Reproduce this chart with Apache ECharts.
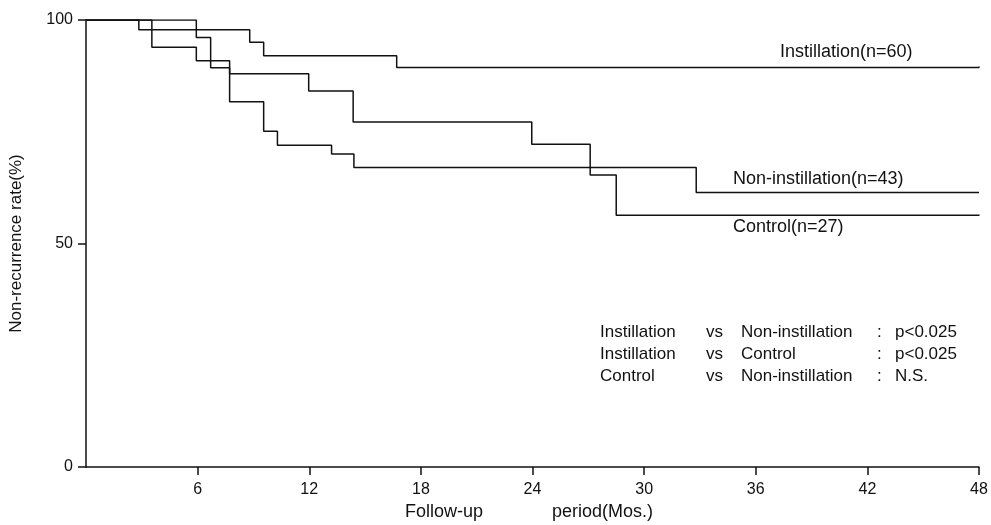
<!DOCTYPE html>
<html>
<head>
<meta charset="utf-8">
<script src="https://cdn.jsdelivr.net/npm/echarts@6/dist/echarts.min.js"></script>
<style>
  html, body { margin: 0; padding: 0; background: #fff; }
  #main { width: 991px; height: 525px; }
</style>
</head>
<body>
<div id="main"></div>
<script>
// survival curves (months, non-recurrence %)
var instTimes = [0, 2.84, 8.8, 9.55, 16.7, 48];
var instRates = [100, 97.8, 95, 92, 89.4, 89.6];

var nonTimes = [0, 3.54, 5.93, 7.72, 9.55, 10.29, 13.2, 14.4, 32.8, 48];
var nonRates = [100, 93.9, 90.9, 81.7, 75.1, 72, 70, 67, 61.4, 61.4];

var ctrlTimes = [0, 5.93, 6.7, 7.72, 11.97, 14.36, 23.96, 27.1, 28.5, 48];
var ctrlRates = [100, 96.1, 89.3, 88, 84.1, 77.2, 72.2, 65.3, 56.3, 56.5];

var xTicks = [6, 12, 18, 24, 30, 36, 42, 48];

var curveLabels = ['Instillation(n=60)', 'Non-instillation(n=43)', 'Control(n=27)'];
var tableRows = [
  ['Instillation', 'vs', 'Non-instillation', ':', 'p<0.025'],
  ['Instillation', 'vs', 'Control', ':', 'p<0.025'],
  ['Control', 'vs', 'Non-instillation', ':', 'N.S.']
];

function pairs(t, v) {
  var out = [];
  for (var i = 0; i < t.length; i++) out.push([t[i], v[i]]);
  return out;
}

var FONT = '"Liberation Sans", Arial, Helvetica, sans-serif';

function lineSeries(name, t, v) {
  return {
    name: name,
    type: 'line',
    step: 'end',
    symbol: 'none',
    data: pairs(t, v),
    lineStyle: { color: '#111', width: 1.5 },
    silent: true
  };
}

// annotation texts
var graphics = [];
var labelPos = [[780, 53], [733, 180], [733, 228]];
curveLabels.forEach(function (s, i) {
  graphics.push({
    type: 'text', left: labelPos[i][0], top: labelPos[i][1] - 10,
    style: { text: s, font: '18px ' + FONT, fill: '#111' }
  });
});
var colX = [600, 706, 741, 877, 895];
var rowY = [333, 355, 377];
tableRows.forEach(function (row, r) {
  row.forEach(function (cell, c) {
    graphics.push({
      type: 'text', left: colX[c], top: rowY[r] - 9,
      style: { text: cell, font: '17px ' + FONT, fill: '#111' }
    });
  });
});
graphics.push({
  type: 'text', left: 405, top: 503,
  style: { text: 'Follow-up', font: '18px ' + FONT, fill: '#111' }
});
graphics.push({
  type: 'text', left: 552, top: 503,
  style: { text: 'period(Mos.)', font: '18px ' + FONT, fill: '#111' }
});

var myChart = echarts.init(document.getElementById('main'));
var option = {
  backgroundColor: '#fff',
  animation: false,
  grid: { left: 86, right: 12, top: 20, bottom: 58 },
  xAxis: {
    type: 'value',
    min: 0,
    max: 48,
    interval: 6,
    splitLine: { show: false },
    axisLine: { lineStyle: { color: '#111', width: 1.5 } },
    axisTick: { length: 8, lineStyle: { color: '#111', width: 1.5 }, customValues: xTicks },
    axisLabel: { color: '#111', fontSize: 16, fontFamily: FONT, margin: 15, customValues: xTicks }
  },
  yAxis: {
    type: 'value',
    min: 0,
    max: 100,
    interval: 50,
    name: 'Non-recurrence rate(%)',
    nameLocation: 'middle',
    nameGap: 61,
    nameTextStyle: { color: '#111', fontSize: 17, fontFamily: FONT },
    splitLine: { show: false },
    axisLine: { show: true, lineStyle: { color: '#111', width: 1.5 } },
    axisTick: { show: true, length: 8, lineStyle: { color: '#111', width: 1.5 } },
    axisLabel: { color: '#111', fontSize: 16, fontFamily: FONT, margin: 13 }
  },
  series: [
    lineSeries('Instillation', instTimes, instRates),
    lineSeries('Non-instillation', nonTimes, nonRates),
    lineSeries('Control', ctrlTimes, ctrlRates)
  ],
  graphic: graphics
};
myChart.setOption(option);
</script>
</body>
</html>
